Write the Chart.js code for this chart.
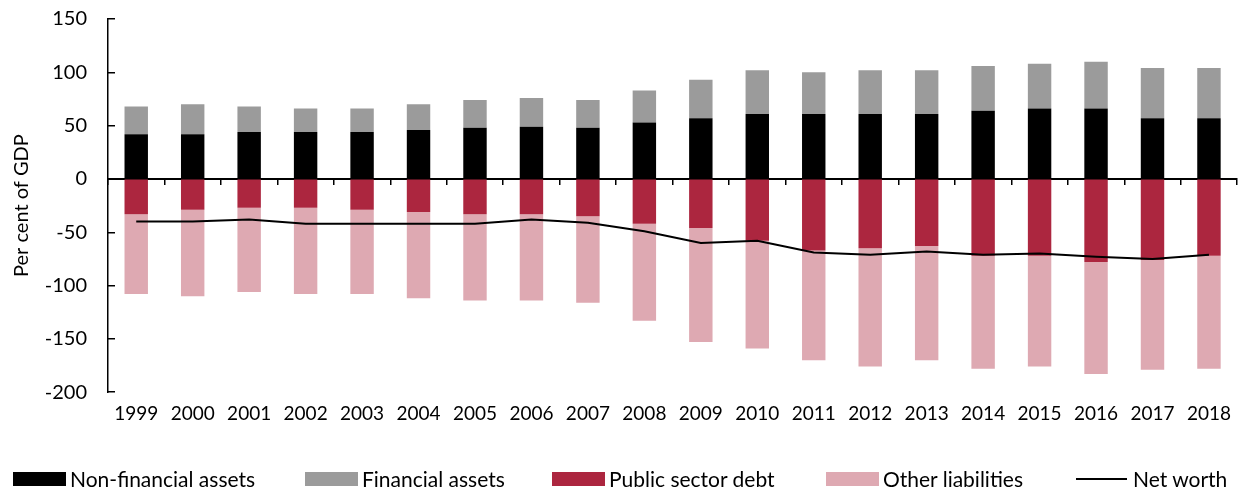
<!DOCTYPE html>
<html>
<head>
<meta charset="utf-8">
<script src="https://cdn.jsdelivr.net/npm/chart.js@4/dist/chart.umd.min.js"></script>
<style>
  html, body { margin: 0; padding: 0; background: #fff; }
  #wrap { position: relative; width: 1241px; height: 491px; overflow: hidden; }
  canvas { display: block; }
  #legend { position: absolute; left: 0; top: 466px; width: 1241px; height: 25px;
            font-family: Lato, "Open Sans", sans-serif; font-size: 21px; color: #000; }
  .item { position: absolute; top: 0; height: 25px; display: flex; align-items: center; white-space: nowrap; }
  .swatch { width: 53px; height: 14px; margin-right: 4px; flex: none; }
  .stroke { width: 51px; height: 0; border-top: 2px solid #000; margin-right: 6px; flex: none; }
</style>
</head>
<body>
<div id="wrap">
  <canvas id="chart" width="1241" height="491"></canvas>
  <div id="legend"></div>
</div>
<script>
// Public sector balance sheet, per cent of GDP
const years = ['1999','2000','2001','2002','2003','2004','2005','2006','2007','2008',
               '2009','2010','2011','2012','2013','2014','2015','2016','2017','2018'];
const nonFinancialAssets = [42, 42, 44, 44, 44, 46, 48, 49, 48, 53, 57, 61, 61, 61, 61, 64, 66, 66, 57, 57];
const financialAssets    = [26, 28, 24, 22, 22, 24, 26, 27, 26, 30, 36, 41, 39, 41, 41, 42, 42, 44, 47, 47];
const publicSectorDebt   = [-33, -29, -27, -27, -29, -31, -33, -33, -35, -42, -46, -58, -67, -65, -63, -72, -72, -78, -76, -72];
const otherLiabilities   = [-75, -81, -79, -81, -79, -81, -81, -81, -81, -91, -107, -101, -103, -111, -107, -106, -104, -105, -103, -106];
const netWorth           = [-40, -40, -38, -42, -42, -42, -42, -38, -41, -49, -60, -58, -69, -71, -68, -71, -70, -73, -75, -71];
const yTicks = [-200, -150, -100, -50, 0, 50, 100, 150];

const FONT = 'Lato, "Open Sans", sans-serif';
// left edge of each legend entry, in px
const legendSlots = [13, 305, 552, 826, 1076];

function barSet(label, data, color) {
  return {
    type: 'bar', label, data,
    backgroundColor: color, borderWidth: 0,
    barPercentage: 0.415, categoryPercentage: 1.0,
    order: 1
  };
}

const setTicks = (scale) => { scale.ticks = yTicks.map(v => ({ value: v })); };

const chart = new Chart(document.getElementById('chart'), {
  data: {
    labels: years,
    datasets: [
      barSet('Non-financial assets', nonFinancialAssets, '#000000'),
      barSet('Financial assets', financialAssets, '#9b9b9b'),
      barSet('Public sector debt', publicSectorDebt, '#ac263f'),
      barSet('Other liabilities', otherLiabilities, '#dea9b2'),
      {
        type: 'line', label: 'Net worth', data: netWorth,
        borderColor: '#000000', borderWidth: 2, pointRadius: 0,
        fill: false, tension: 0, order: 0
      }
    ]
  },
  options: {
    responsive: false,
    animation: false,
    layout: { padding: { top: 19, right: 0, left: 0, bottom: 56 } },
    plugins: {
      tooltip: { enabled: false },
      legend: { display: false }
    },
    scales: {
      x: {
        type: 'category',
        stacked: true,
        offset: true,
        grid: { display: false, drawTicks: false },
        border: { display: false },
        ticks: {
          font: { family: FONT, size: 19 }, color: '#000',
          padding: 10, maxRotation: 0, autoSkip: false
        }
      },
      // zero line with small tick marks between the years
      xZero: {
        type: 'category',
        axis: 'x',
        labels: years,
        position: { y: 0 },
        offset: true,
        grid: { offset: true, drawOnChartArea: false, drawTicks: true, tickLength: 5, color: '#000', lineWidth: 1.5 },
        border: { display: true, color: '#000', width: 2 },
        ticks: { display: false }
      },
      // value axis: labels and title (its own tick marks are hidden)
      y: {
        stacked: true,
        weight: 1,
        min: -200, max: 150,
        afterBuildTicks: setTicks,
        afterFit: (scale) => { scale.width = 108; },
        grid: { drawOnChartArea: false, drawTicks: true, tickLength: 16, tickColor: 'rgba(0,0,0,0)' },
        border: { display: true, color: '#000', width: 1.5 },
        ticks: { font: { family: FONT, size: 20 }, color: '#000', padding: 5 },
        title: {
          display: true, text: 'Per cent of GDP',
          font: { family: FONT, size: 20 }, color: '#000', padding: { top: 10, bottom: 0 }
        }
      },
      // inward-pointing tick marks on the value axis
      yMarks: {
        type: 'linear',
        axis: 'y',
        position: 'left',
        weight: 0,
        min: -200, max: 150,
        afterBuildTicks: setTicks,
        afterFit: (scale) => { scale.width = 0; },
        grid: { drawOnChartArea: false, drawTicks: true, tickLength: -7, color: '#000', lineWidth: 1.5 },
        border: { display: false },
        ticks: { display: false }
      }
    }
  }
});

// Legend built from the chart's own datasets
const legendEl = document.getElementById('legend');
chart.data.datasets.forEach((ds, i) => {
  const item = document.createElement('div');
  item.className = 'item';
  item.style.left = legendSlots[i] + 'px';
  const key = document.createElement('span');
  if (ds.type === 'line') {
    key.className = 'stroke';
    key.style.borderTopColor = ds.borderColor;
    key.style.borderTopWidth = ds.borderWidth + 'px';
  } else {
    key.className = 'swatch';
    key.style.background = ds.backgroundColor;
  }
  const text = document.createElement('span');
  text.textContent = ds.label;
  item.appendChild(key);
  item.appendChild(text);
  legendEl.appendChild(item);
});
</script>
</body>
</html>
